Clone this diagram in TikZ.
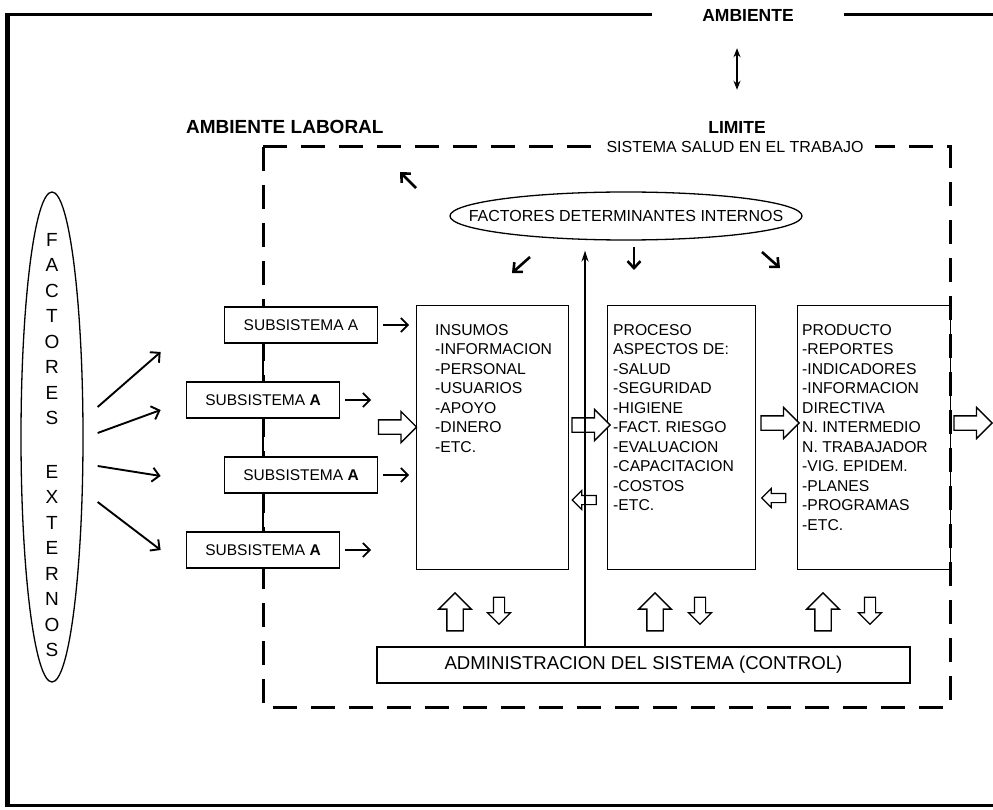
\documentclass[tikz,border=0pt]{standalone}
\usepackage{fontspec}
\setmainfont{Liberation Sans}
\usetikzlibrary{arrows.meta,shapes.geometric,shapes.arrows,calc,positioning}
\tikzstyle{edge}  =[line width=1.9pt, -{Straight Barb[length=7pt,width=14pt]}]
\tikzstyle{tick}  =[line width=2.6pt, -{Straight Barb[length=7pt,width=13pt]}]
\tikzstyle{fat}   =[single arrow, draw, fill=white, line width=1.3pt,
                    inner xsep=0pt, inner ysep=6.5pt,
                    single arrow head extend=8.5pt, minimum height=38pt]
\tikzstyle{slim}  =[single arrow, draw, fill=white, line width=1.2pt,
                    inner xsep=0pt, inner ysep=4pt,
                    single arrow head extend=5pt, minimum height=24pt]
\tikzstyle{upfat} =[single arrow, draw, fill=white, line width=1.4pt,
                    inner xsep=7.5pt, inner ysep=0pt, shape border rotate=90,
                    single arrow head extend=8pt, minimum height=38pt]
\tikzstyle{downslim}=[single arrow, draw, fill=white, line width=1.2pt,
                    inner xsep=5pt, inner ysep=0pt, shape border rotate=270,
                    single arrow head extend=6pt, minimum height=27pt]
\tikzstyle{subbox}=[draw, fill=white, line width=1.4pt, minimum width=153pt,
                    minimum height=36pt, inner sep=0pt,
                    font=\fontsize{15.5}{18}\selectfont]
\tikzstyle{block} =[draw, line width=1.3pt, anchor=north west,
                    minimum height=264pt, inner sep=0pt]
\tikzstyle{list}  =[anchor=north west, align=left, inner sep=0pt,
                    font=\fontsize{15.7}{19.5}\selectfont]
\tikzstyle{title} =[inner sep=0pt, font=\bfseries\fontsize{17.5}{20}\selectfont]

\begin{document}
\begin{tikzpicture}[x=1pt, y=-1pt]
\useasboundingbox (0,0) rectangle (993,810);
% ambiente
\node (amb) [title, fill=white, inner xsep=50pt] at (748,15) {AMBIENTE};
\draw[line width=3pt] (amb.west) -- (7,15);
\draw[line width=3pt] (amb.east) -- (993,15);
\draw[line width=3pt] (7,805) -- (993,805);
\draw[line width=5pt] (7,13.5) -- (7,806.5);
\node (lim) [title] at (737,127) {LIMITE};
\draw[line width=2pt, {Stealth[length=9pt,width=7pt]}-{Stealth[length=9pt,width=7pt]},
      shorten <=27pt, shorten >=31pt] (lim.north |- amb.south) -- (lim.north);
\node (lab) [title, anchor=west, font=\bfseries\fontsize{19}{22}\selectfont]
      at (186,127) {AMBIENTE LABORAL};
% limite del sistema
\draw[line width=3pt, dash pattern=on 24pt off 14pt] (263,147) rectangle (950,707);
\node (sis) [fill=white, inner xsep=12pt, inner ysep=2pt,
      font=\fontsize{16}{19}\selectfont] at (735,147) {SISTEMA SALUD EN EL TRABAJO};
% factores
\node (fe) [ellipse, draw, line width=1.3pt, minimum width=62pt,
      minimum height=490pt, inner sep=0pt] at (52,437) {};
\node (fet) [align=center, inner sep=0pt, font=\fontsize{19}{25.5}\selectfont]
      at (52,445) {F\\A\\C\\T\\O\\R\\E\\S\\[28pt]E\\X\\T\\E\\R\\N\\O\\S};
\node (fdi) [ellipse, draw, line width=1.3pt, minimum width=352pt,
      minimum height=48pt, inner sep=0pt] at (626,216) {};
\node (fdit) [inner sep=0pt, font=\fontsize{16}{19}\selectfont]
      at (fdi.center) {FACTORES DETERMINANTES INTERNOS};
\foreach \a/\b/\c/\d in {-210/28/-226/44, -96/-41/-114/-57,
                         8/-31/8/-54, 136/-36/154/-52}
  \draw[tick] ([xshift=\a pt,yshift=\b pt]fdi.center)
           -- ([xshift=\c pt,yshift=\d pt]fdi.center);
% subsistemas
\node (s1) [subbox] at (301,325) {SUBSISTEMA A};
\node (s2) [subbox, on grid, below left=75pt and 38pt of s1] {SUBSISTEMA \textbf{A}};
\node (s3) [subbox, on grid, below right=75pt and 38pt of s2] {SUBSISTEMA \textbf{A}};
\node (s4) [subbox, on grid, below left=75pt and 38pt of s3] {SUBSISTEMA \textbf{A}};
\draw[line width=2pt] (s1.south -| s2) -- (s2.north);
\draw[line width=2pt] (s2.south) -- (s3.north -| s2);
\draw[line width=2pt] (s3.south -| s4) -- (s4.north);
\foreach \s in {s1,s2,s3,s4}
  \draw[edge] ([xshift=5pt]\s.east) -- ([xshift=31pt]\s.east);
\foreach \a/\b in {30/85, 4/27, -29/-39, -65/-113}
  \draw[edge] ([xshift=14pt,yshift=\a pt]fe.east)
           -- ([xshift=77pt,yshift=\b pt]fe.east);
% bloques
\node (ins) [block, minimum width=152pt] at (416,305) {};
\node (pro) [block, minimum width=148pt] at (607,305) {};
\node (prd) [block, minimum width=153pt] at (797,305) {};
\node (insT) [list, xshift=19pt, yshift=-19.3pt] at (ins.north west)
      {INSUMOS\\-INFORMACION\\-PERSONAL\\-USUARIOS\\-APOYO\\-DINERO\\-ETC.};
\node (proT) [list, xshift=6pt, yshift=-19.3pt] at (pro.north west)
      {PROCESO\\ASPECTOS DE:\\-SALUD\\-SEGURIDAD\\-HIGIENE\\-FACT. RIESGO\\
       -EVALUACION\\-CAPACITACION\\-COSTOS\\-ETC.};
\node (prdT) [list, xshift=5pt, yshift=-19.3pt] at (prd.north west)
      {PRODUCTO\\-REPORTES\\-INDICADORES\\-INFORMACION\\DIRECTIVA\\
       N. INTERMEDIO\\N. TRABAJADOR\\-VIG. EPIDEM.\\-PLANES\\-PROGRAMAS\\-ETC.};
\node (adm) [draw, line width=1.3pt, minimum width=533pt, minimum height=36pt,
      inner sep=0pt, font=\fontsize{18.6}{22}\selectfont]
      at (643.5,665) {ADMINISTRACION DEL SISTEMA (CONTROL)};
% flechas huecas
\node (h1) [fat] at (394,427) {};
\node (h2) [fat] at (587.5,425) {};
\node (h3) [slim, shape border rotate=180] at (586.5,500) {};
\node (h4) [fat] at (776.5,423) {};
\node (h5) [slim, shape border rotate=180] at (776,498) {};
\node (h6) [fat] at (969.5,423) {};
\foreach \x/\n in {455/u1, 655/u2, 823/u3}
  \node (\n) [upfat] at (\x,616) {};
\foreach \x/\n in {499/d1, 700/d2, 870/d3}
  \node (\n) [downslim] at (\x,608) {};
\coordinate (v) at (585,0);
\draw[line width=2pt, -{Stealth[length=11pt,width=7pt]}, shorten >=10pt]
      (adm.north -| v) -- (fdi.south -| v);
\end{tikzpicture}
\end{document}
